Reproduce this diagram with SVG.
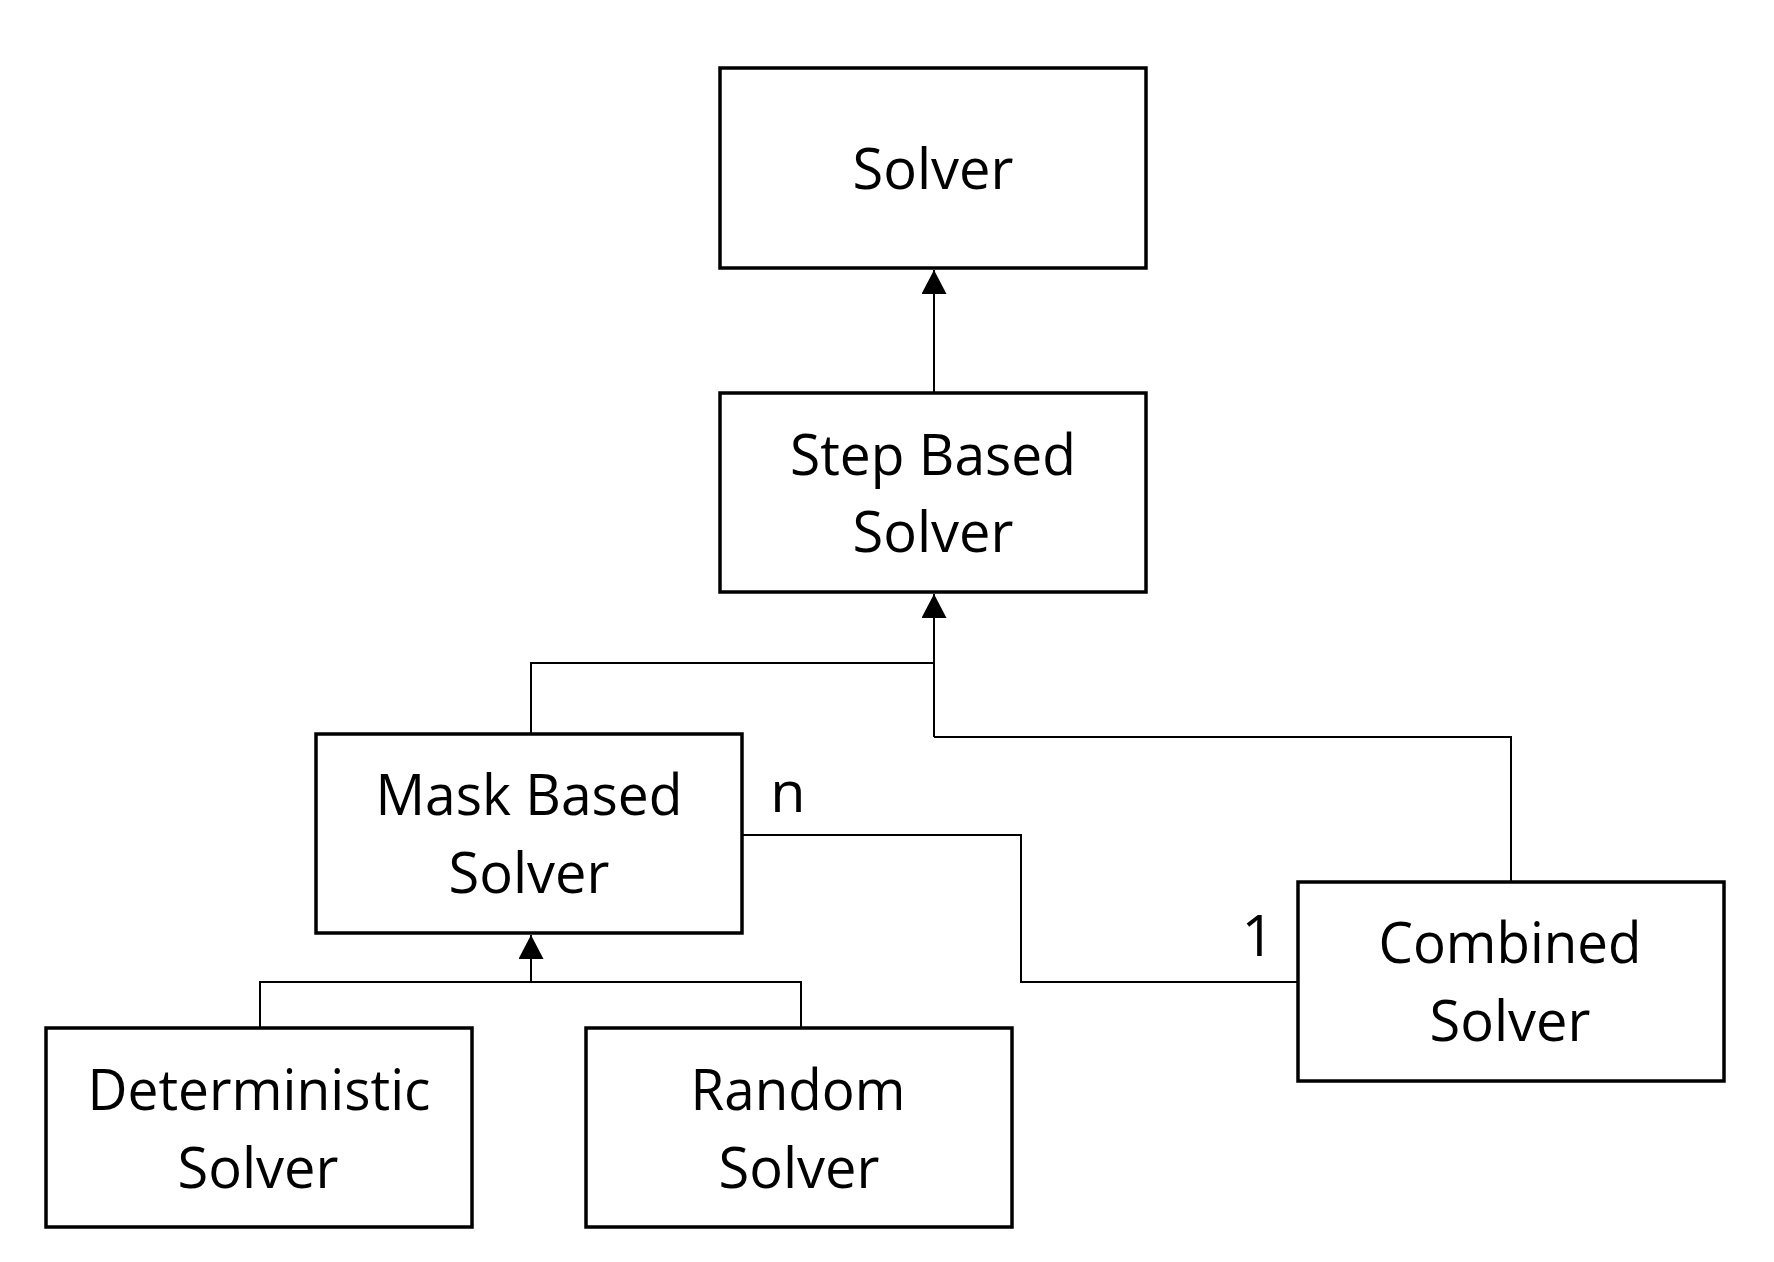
<svg xmlns="http://www.w3.org/2000/svg" width="1774" height="1262" viewBox="0 0 1774 1262">
<style>
.box{fill:#fff;stroke:#000;stroke-width:3.5}
.lbl{font-family:"Open Sans","Noto Sans","Liberation Sans",sans-serif;font-size:57.5px;fill:#000;text-anchor:middle}
.con{fill:none;stroke:#000;stroke-width:2}
</style>
<defs>
<marker id="tri" markerUnits="userSpaceOnUse" viewBox="0 0 24 25" refX="24" refY="12.5" markerWidth="24" markerHeight="25" orient="auto">
<path d="M0,0 L24,12.5 L0,25 Z" fill="#000"/>
</marker>
</defs>
<rect width="1774" height="1262" fill="#fff"/>
<g id="connectors">
<path class="con" d="M934,393 V270" marker-end="url(#tri)"/>
<path class="con" d="M934,737 V594" marker-end="url(#tri)"/>
<path class="con" d="M531,734 V663 H934"/>
<path class="con" d="M1511,882 V737 H934"/>
<path class="con" d="M742,835 H1021 V982 H1298"/>
<path class="con" d="M531,982 V935" marker-end="url(#tri)"/>
<path class="con" d="M260,1028 V982 H801 V1028"/>
<text class="lbl" x="788" y="812">n</text>
<text class="lbl" x="1258" y="956">1</text>
</g>
<g id="solver">
<rect class="box" x="720" y="68" width="426" height="200"/>
<text class="lbl" x="933" y="189" textLength="161" lengthAdjust="spacingAndGlyphs">Solver</text>
</g>
<g id="step-based-solver">
<rect class="box" x="720" y="393" width="426" height="199"/>
<text class="lbl" x="933" y="475" textLength="286" lengthAdjust="spacingAndGlyphs">Step Based</text>
<text class="lbl" x="933" y="552" textLength="161" lengthAdjust="spacingAndGlyphs">Solver</text>
</g>
<g id="mask-based-solver">
<rect class="box" x="316" y="734" width="426" height="199"/>
<text class="lbl" x="529" y="815" textLength="307" lengthAdjust="spacingAndGlyphs">Mask Based</text>
<text class="lbl" x="529" y="893" textLength="161" lengthAdjust="spacingAndGlyphs">Solver</text>
</g>
<g id="combined-solver">
<rect class="box" x="1298" y="882" width="426" height="199"/>
<text class="lbl" x="1510" y="963" textLength="263" lengthAdjust="spacingAndGlyphs">Combined</text>
<text class="lbl" x="1510" y="1041" textLength="161" lengthAdjust="spacingAndGlyphs">Solver</text>
</g>
<g id="deterministic-solver">
<rect class="box" x="46" y="1028" width="426" height="199"/>
<text class="lbl" x="259" y="1110" textLength="343" lengthAdjust="spacingAndGlyphs">Deterministic</text>
<text class="lbl" x="258" y="1188" textLength="161" lengthAdjust="spacingAndGlyphs">Solver</text>
</g>
<g id="random-solver">
<rect class="box" x="586" y="1028" width="426" height="199"/>
<text class="lbl" x="798" y="1110" textLength="215" lengthAdjust="spacingAndGlyphs">Random</text>
<text class="lbl" x="799" y="1188" textLength="161" lengthAdjust="spacingAndGlyphs">Solver</text>
</g>
</svg>
